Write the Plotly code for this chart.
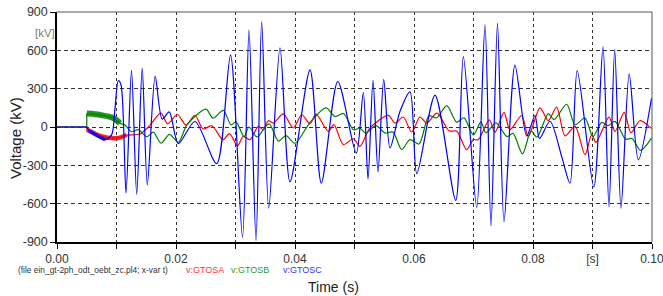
import plotly.graph_objects as go

# ---- data (time in ms, voltage in kV) ----
t_a_ms = [0, 5.0, 5.01, 7.23, 10.03, 11.71, 13.95, 15.63, 17.45, 18.57,
          20.25, 21.68, 23.19, 24.54, 26.05, 27.9, 28.99, 30.34, 31.31, 32.44,
          33.83, 34.67, 35.51, 36.35, 38.03, 39.71, 41.13, 42.52, 43.53, 45.6,
          46.55, 48.12, 49.8, 50.92, 52.61, 55.68, 56.81, 58.2, 59.61, 61.01,
          62.13, 63.87, 65.88, 67.18, 68.86, 69.97, 70.8, 72.66, 73.61, 75.13,
          76.13, 78.1, 79.21, 81.18, 82.57, 83.98, 85.38, 87.06, 88.74, 89.86,
          90.59, 92.77, 93.78, 95.33, 96.47, 97.98, 99.92]
v_a = [0, 0, -20, -70, -88, -63, -55, 13, 111, 25,
       98, 15, 92, -15, 10, -100, -52, -146, -73, -99,
       5, -21, 49, 31, 102, -8, 96, 25, 100, -34,
       18, -138, -92, -151, -8, 91, 31, 78, -39, 78,
       31, 108, -30, -34, -178, -99, -100, 56, -42, 115,
       -21, 90, -75, 150, 50, 156, -70, 5, -217, -60,
       -120, 78, -35, 115, -45, 49, -12]

t_b_ms = [0, 5.0, 5.01, 7.23, 9.46, 10.59, 11.43, 12.55, 13.66, 15.08,
          16.18, 17.48, 18.91, 20.39, 21.85, 25.04, 26.22, 27.95, 29.24, 30.08,
          31.43, 32.27, 33.61, 35.63, 37.23, 38.49, 40.0, 42.52, 45.21, 46.72,
          48.15, 49.83, 50.92, 51.9, 53.61, 55.13, 56.47, 57.93, 59.33, 60.84,
          62.52, 63.81, 65.5, 67.18, 68.4, 69.97, 71.26, 72.07, 73.78, 75.63,
          76.64, 78.24, 79.66, 80.67, 82.57, 83.53, 85.66, 87.06, 88.74, 90.08,
          91.55, 92.61, 93.78, 95.55, 96.64, 98.07, 99.92]
v_b = [0, 0, 105, 95, 70, 29, 15, -37, -20, -76,
       -40, -127, -58, -120, 17, 140, 69, 130, 17, 40,
       -75, 0, -78, 25, -110, -68, -127, 35, 150, 82,
       106, -22, -10, -48, 10, -47, -40, -176, -99, -133,
       88, 72, 167, 37, 72, -62, 40, -45, 32, -75,
       -50, -211, -30, -80, 105, 57, 178, 18, 70, -75,
       36, 10, 44, -95, -90, -183, -87]

t_c_ms = [0, 5.0, 5.4, 6.5, 8.07, 9.19, 9.75, 10.3, 10.76, 11.6,
          12.52, 13.4, 14.32, 15.18, 16.5, 17.68, 18.86, 20.39, 23.19, 26.84,
          29.16, 31.18, 32.27, 33.45, 34.4, 35.58, 37.48, 39.16, 42.52, 44.42,
          47.19, 50.3, 51.48, 52.27, 53.11, 53.95, 54.91, 55.97, 57.65, 59.33,
          60.47, 63.53, 67.01, 68.29, 70.54, 71.93, 72.94, 74.03, 75.13, 76.97,
          78.94, 80.34, 81.09, 82.86, 84.87, 86.22, 87.43, 90.22, 91.76, 92.77,
          93.73, 94.79, 96.17, 97.7, 99.92]
v_c = [0, 0, -30, -60, -100, -60, 149, 362, 330, -517,
       445, -528, 460, -452, 396, 62, 118, -130, 43, -287,
       563, -862, 760, -890, 825, -635, 620, -429, 447, -440,
       356, -205, 270, -407, 365, -352, 373, -165, 123, 275,
       -365, 250, -574, 551, -629, 800, -775, 811, -741, 485,
       -70, 90, -90, 45, -240, -440, 441, -470, 627, -625,
       605, -636, 415, -258, 225]

y_ticks = [-900, -600, -300, 0, 300, 600, 900]
y_tick_labels = ["-900", "-600", "-300", "0", "300", "600", "900"]
x_ticks = [0.00, 0.01, 0.02, 0.03, 0.04, 0.05, 0.06, 0.07, 0.08, 0.09, 0.10]
x_tick_labels = ["0.00", "", "0.02", "", "0.04", "", "0.06", "", "0.08", "[s]", "0.10"]

# (name, times, values, colour, end of noisy band in ms, band width)
series = [
    ("v:GTOSA", t_a_ms, v_a, "#ff0000", 11.8, 4.5),
    ("v:GTOSB", t_b_ms, v_b, "#008000", 10.6, 6.0),
    ("v:GTOSC", t_c_ms, v_c, "#0000ff", 8.5, 3.5),
]

fig = go.Figure()
for name, t_ms, v, col, noisy_end, noisy_w in series:
    t_s = [x / 1000.0 for x in t_ms]
    # pre-event flat part + step (linear)
    fig.add_trace(go.Scatter(
        x=t_s[:3], y=v[:3], mode="lines", line=dict(color=col, width=1.2),
        showlegend=False, hoverinfo="skip"))
    # oscillation (smooth)
    fig.add_trace(go.Scatter(
        x=t_s[2:], y=v[2:], mode="lines", name=name,
        line=dict(color=col, width=1.2, shape="spline", smoothing=0.8),
        showlegend=False, hoverinfo="skip"))
    # early noisy band drawn thicker
    idx = [i for i, x in enumerate(t_ms) if i >= 2 and x <= noisy_end]
    fig.add_trace(go.Scatter(
        x=[t_s[i] for i in idx], y=[v[i] for i in idx], mode="lines",
        line=dict(color=col, width=noisy_w, shape="spline", smoothing=0.8),
        opacity=0.85, showlegend=False, hoverinfo="skip"))

FONT = "Arial, Liberation Sans, sans-serif"
W, H = 663, 296
L, T, R, B = 57, 12, 11, 54
pw, ph = W - L - R, H - T - B

def px_to_paper(px, py):
    return (px - L) / pw, (H - B - py) / ph

ROW_Y = 270
annots = []
x0, y0 = px_to_paper(17, ROW_Y)
annots.append(dict(x=x0, y=y0, xref="paper", yref="paper", xanchor="left", yanchor="middle",
                   text="(file ein_gt-2ph_odt_oebt_zc.pl4; x-var t)", showarrow=False, borderpad=0,
                   font=dict(family=FONT, size=8.4, color="#333333")))
for txt, px, col in [("v:GTOSA", 185, "#ff3333"), ("v:GTOSB", 230, "#339933"), ("v:GTOSC", 282, "#3333ff")]:
    xx, yy = px_to_paper(px, ROW_Y)
    annots.append(dict(x=xx, y=yy, xref="paper", yref="paper", xanchor="left", yanchor="middle",
                       text=txt, showarrow=False, borderpad=0,
                       font=dict(family=FONT, size=9, color=col)))
xx, yy = px_to_paper(333, 287)
annots.append(dict(x=xx, y=yy, xref="paper", yref="paper", xanchor="center", yanchor="middle",
                   text="Time (s)", showarrow=False, font=dict(family=FONT, size=14, color="#222222")))
xx, yy = px_to_paper(15, 138)
annots.append(dict(x=xx, y=yy, xref="paper", yref="paper", xanchor="center", yanchor="middle",
                   text="Voltage (kV)", textangle=-90, showarrow=False,
                   font=dict(family=FONT, size=15, color="#222222")))
xx, yy = px_to_paper(45, 33)
annots.append(dict(x=xx, y=yy, xref="paper", yref="paper", xanchor="center", yanchor="middle",
                   text="[kV]", showarrow=False, font=dict(family=FONT, size=11.5, color="#8a7a5a")))

fig.update_layout(
    width=W, height=H, autosize=False,
    margin=dict(l=L, r=R, t=T, b=B, autoexpand=False),
    paper_bgcolor="white", plot_bgcolor="white",
    annotations=annots,
    font=dict(family=FONT, size=12, color="#333333"),
    xaxis=dict(range=[0, 0.1], tickvals=x_ticks, ticktext=x_tick_labels, automargin=False,
               ticks="outside", ticklen=5, tickcolor="#000000", tickwidth=1,
               ticklabeloverflow="allow",
               showline=True, linecolor="#000000", linewidth=1.5, mirror=False,
               showgrid=True, gridcolor="#333333", griddash="3px,3px", gridwidth=1,
               zeroline=False, tickfont=dict(family=FONT, size=12, color="#333333")),
    yaxis=dict(range=[-900, 900], tickvals=y_ticks, ticktext=y_tick_labels, automargin=False,
               ticks="outside", ticklen=5, tickcolor="#000000", tickwidth=1,
               ticklabeloverflow="allow",
               showline=True, linecolor="#000000", linewidth=1.5, mirror=False,
               showgrid=True, gridcolor="#333333", griddash="4px,3px", gridwidth=1,
               zeroline=False, tickfont=dict(family=FONT, size=12.5, color="#333333")),
    shapes=[
        dict(type="line", xref="paper", yref="paper", x0=0, x1=1, y0=1, y1=1,
             line=dict(color="#555555", width=1)),
        dict(type="line", xref="paper", yref="paper", x0=1, x1=1, y0=0, y1=1,
             line=dict(color="#555555", width=1)),
    ],
)

fig.write_html("out.html", config=dict(displayModeBar=False),
               post_script="document.body.style.margin='0px';document.body.style.overflow='hidden';")
